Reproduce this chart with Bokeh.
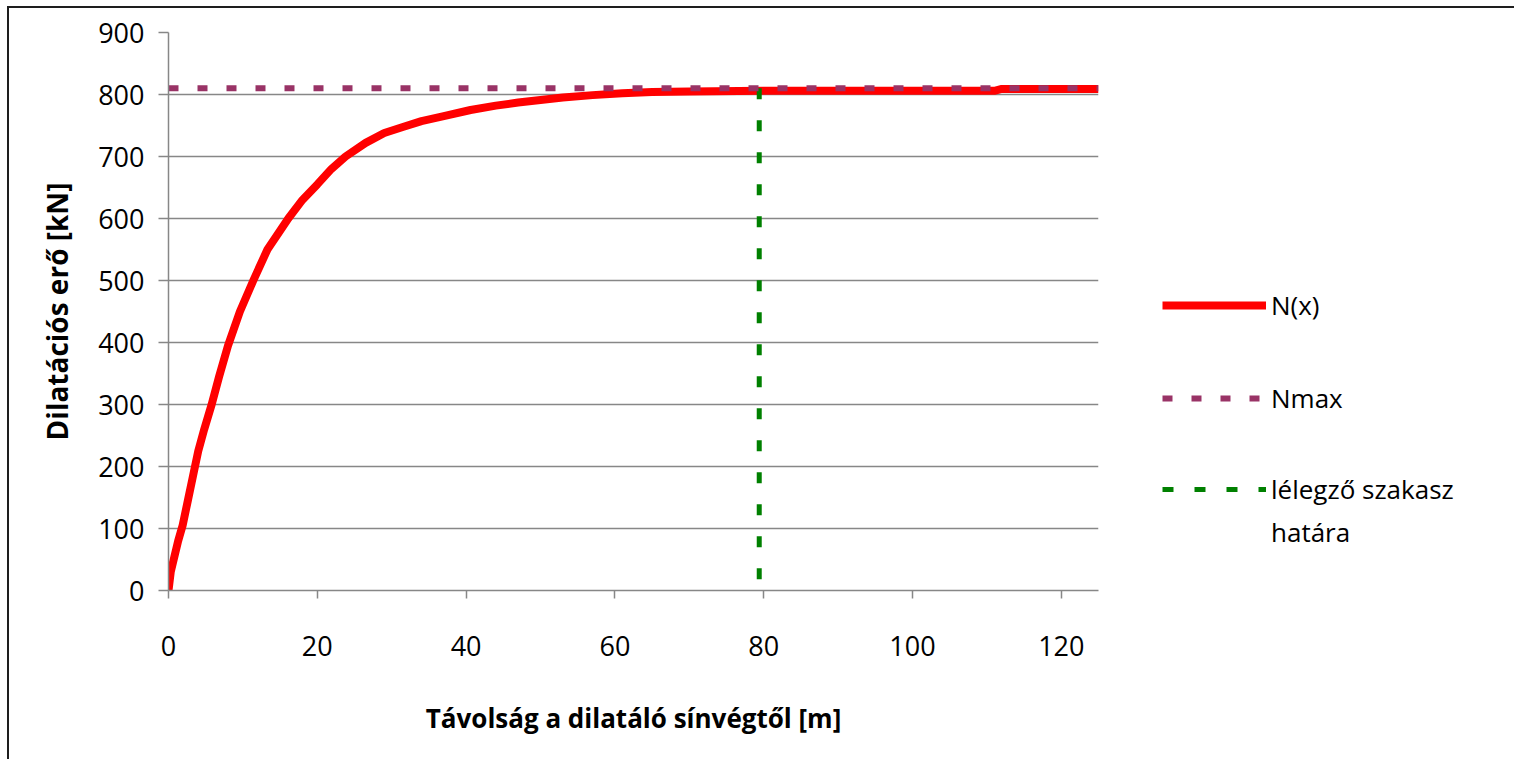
from bokeh.plotting import figure
from bokeh.models import Range1d, Legend, LegendItem
from bokeh.layouts import row
from bokeh.embed import file_html
from bokeh.resources import INLINE

# --- data ---
distance_m = [0, 0.3, 0.8, 1.3, 1.9, 2.6, 3.3, 4.0, 4.8, 5.8, 6.8, 8.0, 9.6, 11.4,
              13.3, 16.1, 18.0, 20.0, 21.9, 23.8, 26.5, 29.0, 31.6, 34.0, 37.0,
              40.6, 44.0, 47.0, 50.0, 53.0, 57.0, 61.0, 65.0, 70.0, 80.0, 95.0,
              111.0, 112.0, 125.0]
force_kN = [0, 30, 55, 80, 105, 145, 185, 225, 260, 300, 345, 395, 450, 500,
            550, 600, 630, 655, 680, 700, 722, 738, 748, 757, 765,
            775, 782, 787, 791, 795, 799, 802, 804, 805, 806, 806,
            806, 809, 809]
nmax_kN = 810
nmax_x = [0, 125]
breathing_limit_m = 79.4
x_ticks = [0, 20, 40, 60, 80, 100, 120]
y_ticks = [0, 100, 200, 300, 400, 500, 600, 700, 800, 900]
series_labels = ["N(x)", "Nmax", "lélegző szakasz", "határa"]

FONT = "Open Sans"
GRID = "#878787"
RED, PURPLE, GREEN = "#FF0000", "#993366", "#008000"
NAN = float("nan")

p = figure(width=1100, height=751, output_backend="svg", toolbar_location=None,
           x_range=Range1d(0, 125), y_range=Range1d(0, 900),
           min_border_left=159, min_border_right=11, min_border_top=24,
           min_border_bottom=169)
p.outline_line_color = None
p.background_fill_color = "white"
p.border_fill_color = "white"

p.xgrid.visible = False
p.ygrid.ticker = y_ticks
p.ygrid.grid_line_color = GRID
p.ygrid.grid_line_width = 1.5

for ax in (p.xaxis[0], p.yaxis[0]):
    ax.axis_line_color = GRID
    ax.axis_line_width = 1.5
    ax.major_tick_line_color = GRID
    ax.major_tick_line_width = 1.5
    ax.major_tick_in = 0
    ax.minor_tick_line_color = None
    ax.major_label_text_font = FONT
    ax.major_label_text_font_size = "27px"
    ax.major_label_text_color = "black"
    ax.axis_label_text_font = FONT
    ax.axis_label_text_font_style = "bold"
    ax.axis_label_text_color = "black"

p.xaxis.axis_label_text_font_size = "26px"
p.yaxis.axis_label_text_font_size = "28px"
p.xaxis.ticker = x_ticks
p.yaxis.ticker = y_ticks
p.xaxis.major_tick_out = 8
p.yaxis.major_tick_out = 10
p.xaxis.major_label_standoff = 37
p.yaxis.major_label_standoff = 14
p.xaxis.axis_label = "Távolság a dilatáló sínvégtől [m]"
p.yaxis.axis_label = "Dilatációs erő [kN]"
p.xaxis.axis_label_standoff = 41
p.yaxis.axis_label_standoff = 19

p.line(distance_m, force_kN, line_color=RED, line_width=8, line_join="round")
p.line([breathing_limit_m, breathing_limit_m], [nmax_kN, 0],
       line_color=GREEN, line_width=5, line_dash="11 21")
p.line(nmax_x, [nmax_kN, nmax_kN], line_color=PURPLE, line_width=6, line_dash="10 19")

# --- legend panel (separate figure to the right of the chart) ---
q = figure(width=405, height=751, output_backend="svg", toolbar_location=None,
           x_range=Range1d(0, 1), y_range=Range1d(0, 1),
           min_border=0, min_border_left=0, min_border_right=0,
           min_border_top=0, min_border_bottom=0)
q.axis.visible = False
q.grid.visible = False
q.outline_line_color = None
q.background_fill_color = "white"
q.border_fill_color = "white"

# legend swatch renderers (no visible data of their own)
lr_n = q.line([NAN, NAN], [NAN, NAN], line_color=RED, line_width=8)
lr_nmax = q.line([NAN, NAN], [NAN, NAN], line_color=PURPLE, line_width=6,
                 line_dash="10 19")
lr_green = q.line([NAN, NAN], [NAN, NAN], line_color=GREEN, line_width=5,
                  line_dash="11 21")
lr_blank = q.line([NAN, NAN], [NAN, NAN], line_alpha=0)

def make_legend(items, spacing, loc):
    return Legend(items=items, location=loc, orientation="vertical",
                  glyph_width=104, glyph_height=40, label_height=40,
                  label_standoff=5, spacing=spacing, padding=0, margin=0,
                  border_line_alpha=0, background_fill_alpha=0,
                  label_text_font=FONT, label_text_font_size="26px",
                  label_text_color="black")

leg_a = make_legend([LegendItem(label=series_labels[0], renderers=[lr_n]),
                     LegendItem(label=series_labels[1], renderers=[lr_nmax])],
                    53, (53, 172))
leg_b = make_legend([LegendItem(label=series_labels[2], renderers=[lr_green]),
                     LegendItem(label=series_labels[3], renderers=[lr_blank])],
                    3, (53, 38))
q.add_layout(leg_a, "center")
q.add_layout(leg_b, "center")

layout = row(p, q, spacing=0)
layout.margin = (8, 0, 0, 9)
layout.styles = {"outline": "2px solid #1e1e1e"}

open("out.html", "w").write(file_html(layout, INLINE))
